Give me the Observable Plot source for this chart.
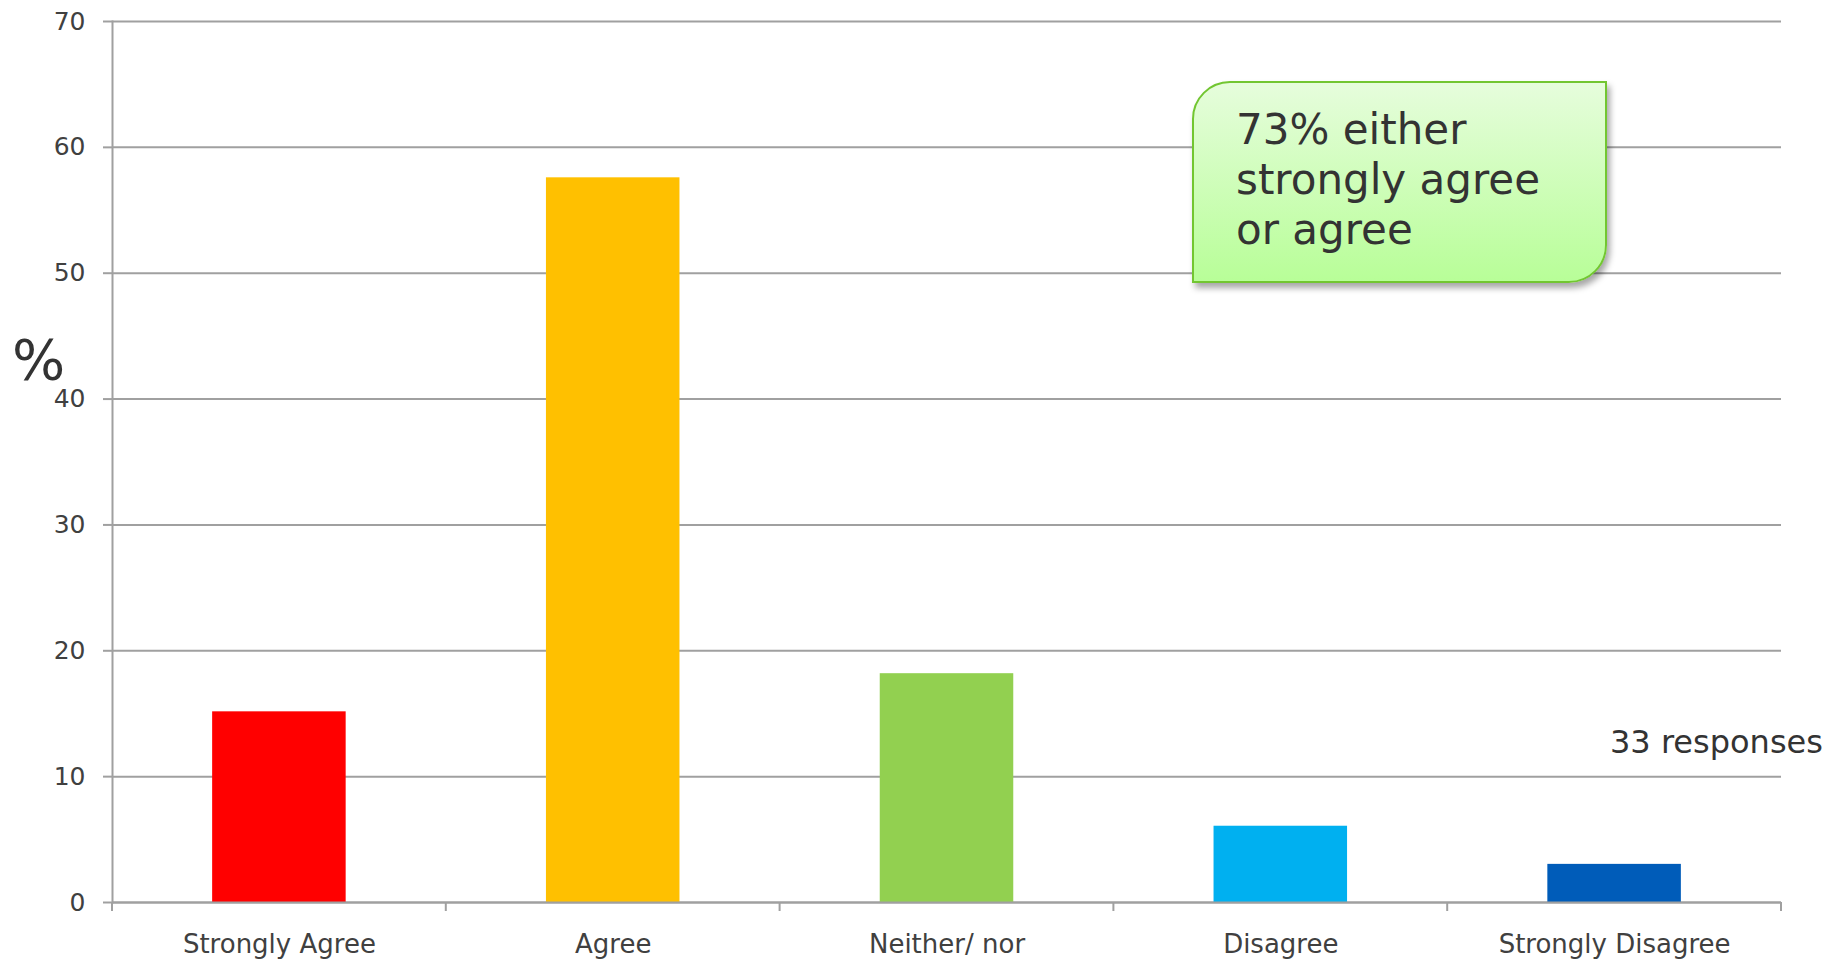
<!DOCTYPE html>
<html>
<head>
<meta charset="utf-8">
<script src="https://cdn.jsdelivr.net/npm/d3@7"></script>
<script src="https://cdn.jsdelivr.net/npm/@observablehq/plot@0.6"></script>
<style>
  html, body { margin: 0; padding: 0; background: #fff; }
  #wrap { position: relative; width: 1839px; height: 961px; font-family: "DejaVu Sans", Verdana, sans-serif; }
  #callout {
    position: absolute; left: 1192px; top: 81px; width: 415px; height: 202px;
    box-sizing: border-box; border: 2px solid #72C631;
    border-radius: 38px 0 38px 0;
    background: linear-gradient(to bottom, #E6FDDC, #B8FE98);
    box-shadow: 3px 5px 6px rgba(0,0,0,0.35);
    color: #333; font-size: 42px; line-height: 50px;
    padding: 22px 0 0 42px;
  }
  #resp { position: absolute; left: 1610px; top: 722px; font-size: 32px; color: #333; white-space: nowrap; line-height: 40px; }
  #pct { position: absolute; left: 12px; top: 330px; font-size: 56px; color: #333; line-height: 60px; }
</style>
</head>
<body>
<div id="wrap">
  <div id="chart"></div>
  <div id="pct">%</div>
  <div id="callout">73% either<br>strongly agree<br>or agree</div>
  <div id="resp">33 responses</div>
</div>
<script>
const categories = ["Strongly Agree", "Agree", "Neither/ nor", "Disagree", "Strongly Disagree"];
const percents = [15.15, 57.58, 18.18, 6.06, 3.03];
const colors = ["#FF0000", "#FFC000", "#92D050", "#00B0F0", "#005CB9"];
const yTicks = [0, 10, 20, 30, 40, 50, 60, 70];

const data = categories.map((c, i) => ({category: c, pct: percents[i], color: colors[i]}));
const gray = "#a0a0a0";

const plot = Plot.plot({
  width: 1839,
  height: 961,
  marginLeft: 112,
  marginRight: 58,
  marginTop: 21,
  marginBottom: 59,
  style: {fontFamily: "DejaVu Sans, Verdana, sans-serif", fontSize: "25px", color: "#404040", background: "white"},
  x: {domain: categories, paddingInner: 0.6, paddingOuter: 0.3, round: false, label: null},
  y: {domain: [0, 70], label: null},
  color: {type: "identity"},
  marks: [
    Plot.gridY(yTicks, {stroke: gray, strokeOpacity: 1, strokeWidth: 2}),
    Plot.axisY(yTicks, {tickSize: 9, tickPadding: 18, stroke: gray, strokeWidth: 2, fill: "#404040", label: null, tickFormat: d => d}),
    Plot.axisX({tickSize: 0, tickPadding: 32, fill: "#404040", fontSize: 26, label: null}),
    Plot.barY(data, {x: "category", y: "pct", fill: "color"}),
    Plot.ruleY([0], {stroke: gray, strokeWidth: 2}),
    Plot.frame({anchor: "left", stroke: gray, strokeWidth: 2})
  ]
});
document.getElementById("chart").appendChild(plot);

// band-boundary tick marks below the x axis, from the plot's own x and y scales
const xs = plot.scale("x");
const ys = plot.scale("y");
const y0 = ys.apply(0);
const gap = xs.step - xs.bandwidth;
const bounds = categories.map(c => xs.apply(c) - gap / 2);
bounds.push(xs.apply(categories[categories.length - 1]) + xs.bandwidth + gap / 2);
d3.select(plot).append("g")
  .selectAll("line").data(bounds).join("line")
  .attr("x1", d => d).attr("x2", d => d)
  .attr("y1", y0).attr("y2", y0 + 9)
  .attr("stroke", gray).attr("stroke-width", 2);
</script>
</body>
</html>
